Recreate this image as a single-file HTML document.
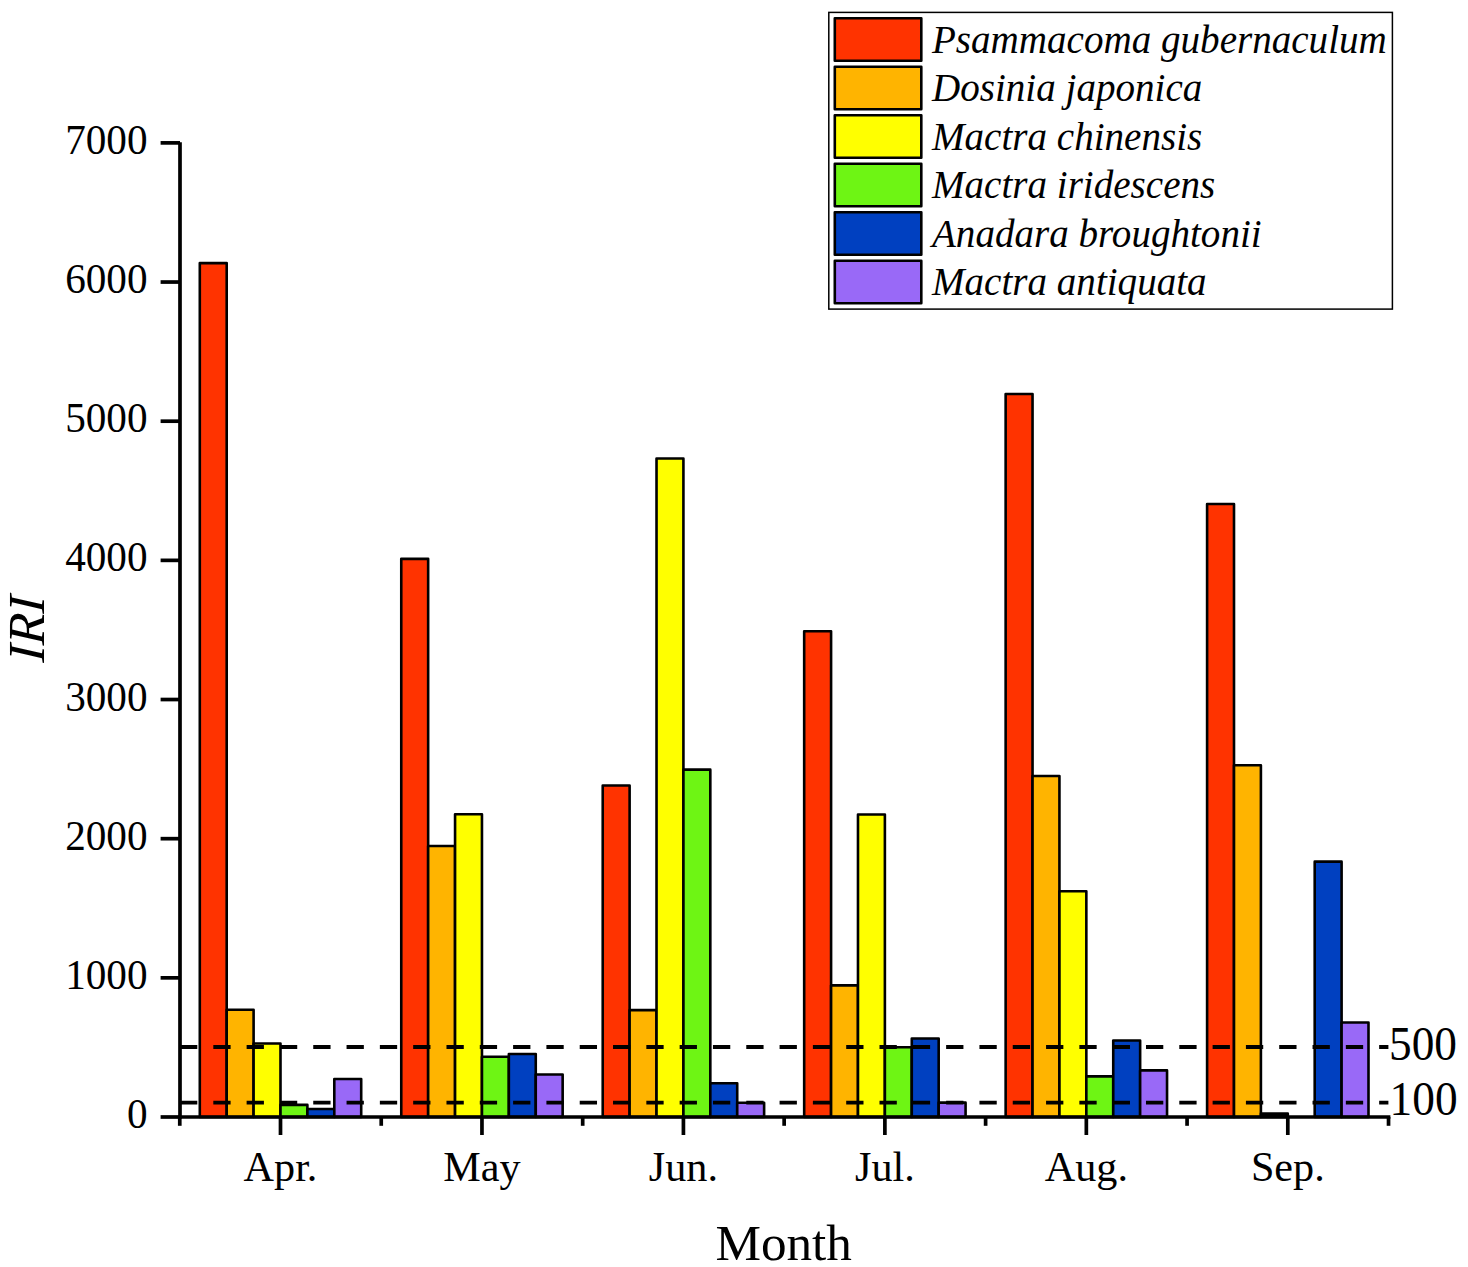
<!DOCTYPE html>
<html><head><meta charset="utf-8"><title>IRI by month</title>
<style>html,body{margin:0;padding:0;background:#fff;}body{width:1468px;height:1267px;overflow:hidden;}svg{display:block;}text{font-family:"Liberation Serif",serif;fill:#000;}</style></head><body>
<svg width="1468" height="1267" viewBox="0 0 1468 1267">
<rect width="1468" height="1267" fill="#fff"/>
<g stroke="#000" stroke-width="2.60" stroke-linejoin="round">
<rect x="199.80" y="263.11" width="26.90" height="853.89" fill="#FF3300"/>
<rect x="226.70" y="1009.71" width="26.90" height="107.29" fill="#FFB400"/>
<rect x="253.60" y="1043.52" width="26.90" height="73.48" fill="#FFFF00"/>
<rect x="280.50" y="1104.89" width="26.90" height="12.11" fill="#6EF514"/>
<rect x="307.40" y="1108.93" width="26.90" height="8.07" fill="#0040C0"/>
<rect x="334.30" y="1079.01" width="26.90" height="37.99" fill="#9969F7"/>
<rect x="401.26" y="558.83" width="26.90" height="558.17" fill="#FF3300"/>
<rect x="428.16" y="846.06" width="26.90" height="270.94" fill="#FFB400"/>
<rect x="455.06" y="814.19" width="26.90" height="302.81" fill="#FFFF00"/>
<rect x="481.96" y="1056.74" width="26.90" height="60.26" fill="#6EF514"/>
<rect x="508.86" y="1053.96" width="26.90" height="63.04" fill="#0040C0"/>
<rect x="535.76" y="1074.56" width="26.90" height="42.44" fill="#9969F7"/>
<rect x="602.72" y="785.52" width="26.90" height="331.48" fill="#FF3300"/>
<rect x="629.62" y="1010.13" width="26.90" height="106.87" fill="#FFB400"/>
<rect x="656.52" y="458.49" width="26.90" height="658.51" fill="#FFFF00"/>
<rect x="683.42" y="769.66" width="26.90" height="347.34" fill="#6EF514"/>
<rect x="710.32" y="1083.18" width="26.90" height="33.82" fill="#0040C0"/>
<rect x="737.22" y="1102.81" width="26.90" height="14.19" fill="#9969F7"/>
<rect x="804.18" y="631.19" width="26.90" height="485.81" fill="#FF3300"/>
<rect x="831.08" y="985.35" width="26.90" height="131.65" fill="#FFB400"/>
<rect x="857.98" y="814.47" width="26.90" height="302.53" fill="#FFFF00"/>
<rect x="884.88" y="1047.28" width="26.90" height="69.72" fill="#6EF514"/>
<rect x="911.78" y="1038.51" width="26.90" height="78.49" fill="#0040C0"/>
<rect x="938.68" y="1102.67" width="26.90" height="14.33" fill="#9969F7"/>
<rect x="1005.64" y="394.06" width="26.90" height="722.94" fill="#FF3300"/>
<rect x="1032.54" y="776.06" width="26.90" height="340.94" fill="#FFB400"/>
<rect x="1059.44" y="891.28" width="26.90" height="225.72" fill="#FFFF00"/>
<rect x="1086.34" y="1076.37" width="26.90" height="40.63" fill="#6EF514"/>
<rect x="1113.24" y="1040.46" width="26.90" height="76.54" fill="#0040C0"/>
<rect x="1140.14" y="1070.38" width="26.90" height="46.62" fill="#9969F7"/>
<rect x="1207.10" y="504.00" width="26.90" height="613.00" fill="#FF3300"/>
<rect x="1234.00" y="765.20" width="26.90" height="351.80" fill="#FFB400"/>
<rect x="1260.90" y="1113.66" width="26.90" height="3.34" fill="#000"/>
<rect x="1314.70" y="861.64" width="26.90" height="255.36" fill="#0040C0"/>
<rect x="1341.60" y="1022.51" width="26.90" height="94.49" fill="#9969F7"/>
</g>
<line x1="180.00" y1="1047.02" x2="1388.40" y2="1047.02" stroke="#000" stroke-width="3.8" stroke-dasharray="17.3 16.01"/>
<line x1="180.00" y1="1102.68" x2="1388.40" y2="1102.68" stroke="#000" stroke-width="3.8" stroke-dasharray="17.3 16.01"/>
<g stroke="#000" stroke-width="3.70" stroke-linecap="butt" fill="none">
<line x1="180.00" y1="142.28" x2="180.00" y2="1118.85"/>
<line x1="178.15" y1="1117.00" x2="1390.38" y2="1117.00"/>
<line x1="160.60" y1="1117.00" x2="180.00" y2="1117.00"/>
<line x1="160.60" y1="977.84" x2="180.00" y2="977.84"/>
<line x1="160.60" y1="838.68" x2="180.00" y2="838.68"/>
<line x1="160.60" y1="699.52" x2="180.00" y2="699.52"/>
<line x1="160.60" y1="560.36" x2="180.00" y2="560.36"/>
<line x1="160.60" y1="421.20" x2="180.00" y2="421.20"/>
<line x1="160.60" y1="282.04" x2="180.00" y2="282.04"/>
<line x1="160.60" y1="142.88" x2="180.00" y2="142.88"/>
<line x1="280.50" y1="1117.00" x2="280.50" y2="1135.00"/>
<line x1="481.96" y1="1117.00" x2="481.96" y2="1135.00"/>
<line x1="683.42" y1="1117.00" x2="683.42" y2="1135.00"/>
<line x1="884.88" y1="1117.00" x2="884.88" y2="1135.00"/>
<line x1="1086.34" y1="1117.00" x2="1086.34" y2="1135.00"/>
<line x1="1287.80" y1="1117.00" x2="1287.80" y2="1135.00"/>
<line x1="179.77" y1="1117.00" x2="179.77" y2="1125.80"/>
<line x1="381.23" y1="1117.00" x2="381.23" y2="1125.80"/>
<line x1="582.69" y1="1117.00" x2="582.69" y2="1125.80"/>
<line x1="784.15" y1="1117.00" x2="784.15" y2="1125.80"/>
<line x1="985.61" y1="1117.00" x2="985.61" y2="1125.80"/>
<line x1="1187.07" y1="1117.00" x2="1187.07" y2="1125.80"/>
<line x1="1388.53" y1="1117.00" x2="1388.53" y2="1125.80"/>
</g>
<text transform="translate(147.5,1128.10) scale(0.967,1)" font-size="42.6" text-anchor="end">0</text>
<text transform="translate(147.5,988.94) scale(0.967,1)" font-size="42.6" text-anchor="end">1000</text>
<text transform="translate(147.5,849.78) scale(0.967,1)" font-size="42.6" text-anchor="end">2000</text>
<text transform="translate(147.5,710.62) scale(0.967,1)" font-size="42.6" text-anchor="end">3000</text>
<text transform="translate(147.5,571.46) scale(0.967,1)" font-size="42.6" text-anchor="end">4000</text>
<text transform="translate(147.5,432.30) scale(0.967,1)" font-size="42.6" text-anchor="end">5000</text>
<text transform="translate(147.5,293.14) scale(0.967,1)" font-size="42.6" text-anchor="end">6000</text>
<text transform="translate(147.5,153.98) scale(0.967,1)" font-size="42.6" text-anchor="end">7000</text>
<text transform="translate(280.50,1181.0) scale(0.99,1)" font-size="42.6" text-anchor="middle">Apr.</text>
<text transform="translate(481.96,1181.0) scale(0.99,1)" font-size="42.6" text-anchor="middle">May</text>
<text transform="translate(683.42,1181.0) scale(0.99,1)" font-size="42.6" text-anchor="middle">Jun.</text>
<text transform="translate(884.88,1181.0) scale(0.99,1)" font-size="42.6" text-anchor="middle">Jul.</text>
<text transform="translate(1086.34,1181.0) scale(0.99,1)" font-size="42.6" text-anchor="middle">Aug.</text>
<text transform="translate(1287.80,1181.0) scale(0.99,1)" font-size="42.6" text-anchor="middle">Sep.</text>
<text transform="translate(1389.0,1059.8) scale(0.952,1)" font-size="47.6">500</text>
<text transform="translate(1389.6,1115.3) scale(0.952,1)" font-size="47.6">100</text>
<text x="783.7" y="1260.1" font-size="51.2" text-anchor="middle">Month</text>
<text transform="translate(43.7,629.6) rotate(-90) skewX(-3)" font-size="52" font-style="italic" text-anchor="middle">IRI</text>
<rect x="828.8" y="12.4" width="563.6" height="296.7" fill="#fff" stroke="#000" stroke-width="1.5"/>
<rect x="834.80" y="18.30" width="86.50" height="42.50" fill="#FF3300" stroke="#000" stroke-width="2.6" stroke-linejoin="round"/>
<text x="932" y="52.90" font-size="39.1" font-style="italic">Psammacoma gubernaculum</text>
<rect x="834.80" y="66.78" width="86.50" height="42.50" fill="#FFB400" stroke="#000" stroke-width="2.6" stroke-linejoin="round"/>
<text x="932" y="101.38" font-size="39.1" font-style="italic">Dosinia japonica</text>
<rect x="834.80" y="115.26" width="86.50" height="42.50" fill="#FFFF00" stroke="#000" stroke-width="2.6" stroke-linejoin="round"/>
<text x="932" y="149.86" font-size="39.1" font-style="italic">Mactra chinensis</text>
<rect x="834.80" y="163.74" width="86.50" height="42.50" fill="#6EF514" stroke="#000" stroke-width="2.6" stroke-linejoin="round"/>
<text x="932" y="198.34" font-size="39.1" font-style="italic">Mactra iridescens</text>
<rect x="834.80" y="212.22" width="86.50" height="42.50" fill="#0040C0" stroke="#000" stroke-width="2.6" stroke-linejoin="round"/>
<text x="932" y="246.82" font-size="39.1" font-style="italic">Anadara broughtonii</text>
<rect x="834.80" y="260.70" width="86.50" height="42.50" fill="#9969F7" stroke="#000" stroke-width="2.6" stroke-linejoin="round"/>
<text x="932" y="295.30" font-size="39.1" font-style="italic">Mactra antiquata</text>
</svg></body></html>
